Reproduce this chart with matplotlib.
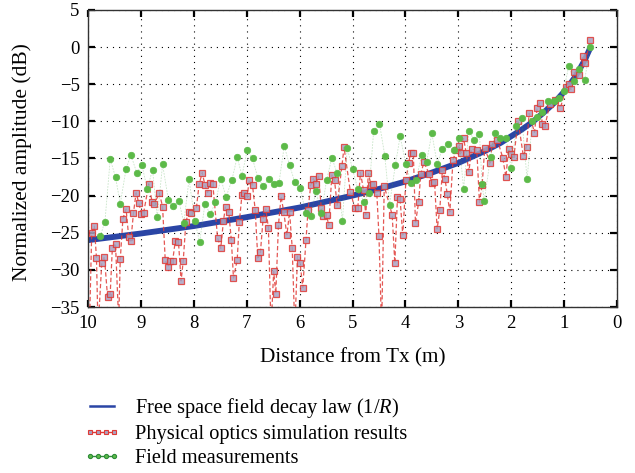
import matplotlib
matplotlib.use("Agg")
import matplotlib.pyplot as plt
from matplotlib.lines import Line2D

plt.rcParams['font.family'] = ['Liberation Serif', 'DejaVu Serif']
plt.rcParams['mathtext.fontset'] = 'custom'
plt.rcParams['mathtext.rm'] = 'Liberation Serif'
plt.rcParams['mathtext.it'] = 'Liberation Serif:italic'

# Free space 1/R law
law_x = [10, 9, 8, 7, 6, 5, 4.5, 4, 3.5, 3, 2.5, 2.2, 2, 1.8, 1.6, 1.4, 1.2,
         1.0, 0.9, 0.8, 0.7, 0.6, 0.55, 0.5]
law_y = [-26.0, -25.1, -24.1, -22.9, -21.6, -20.0, -19.1, -18.1, -16.9, -15.6,
         -14.0, -12.9, -12.0, -11.1, -10.1, -8.9, -7.6, -6.0, -5.1, -4.1, -2.9,
         -1.6, -0.8, 0.0]

# Physical optics simulation results
sim_x = [9.97, 9.93, 9.88, 9.84, 9.81, 9.74, 9.69, 9.63, 9.58, 9.54, 9.48, 9.42,
         9.39, 9.34, 9.28, 9.23, 9.19, 9.14, 9.09, 9.04, 8.99, 8.95, 8.85, 8.79,
         8.75, 8.65, 8.59, 8.54, 8.49, 8.45, 8.40, 8.35, 8.29, 8.24, 8.20, 8.15,
         8.10, 8.06, 7.95, 7.90, 7.84, 7.79, 7.74, 7.69, 7.64, 7.55, 7.49, 7.44,
         7.40, 7.34, 7.29, 7.25, 7.18, 7.14, 7.09, 7.05, 6.99, 6.95, 6.89, 6.84,
         6.79, 6.74, 6.69, 6.64, 6.59, 6.54, 6.49, 6.45, 6.40, 6.35, 6.30, 6.24,
         6.19, 6.14, 6.09, 6.04, 5.99, 5.94, 5.88, 5.84, 5.79, 5.74, 5.69, 5.64,
         5.59, 5.55, 5.49, 5.45, 5.39, 5.34, 5.29, 5.20, 5.16, 5.04, 4.96, 4.90,
         4.85, 4.79, 4.75, 4.70, 4.65, 4.61, 4.54, 4.50, 4.45, 4.40, 4.25, 4.20,
         4.15, 4.10, 4.05, 3.99, 3.94, 3.90, 3.85, 3.81, 3.75, 3.71, 3.65, 3.55,
         3.50, 3.45, 3.40, 3.35, 3.30, 3.25, 3.21, 3.16, 3.10, 3.04, 2.99, 2.95,
         2.90, 2.85, 2.80, 2.75, 2.65, 2.60, 2.55, 2.50, 2.40, 2.36, 2.26, 2.16,
         2.10, 2.05, 2.00, 1.95, 1.87, 1.77, 1.71, 1.66, 1.56, 1.51, 1.46, 1.41,
         1.36, 1.27, 1.17, 1.07, 0.96, 0.91, 0.87, 0.81, 0.71, 0.65, 0.60, 0.51]
sim_y = [-37.0, -25.1, -24.1, -28.4, -38.0, -29.1, -28.2, -33.7, -33.2, -27.1,
         -26.5, -37.0, -28.6, -23.1, -21.8, -25.6, -26.1, -22.3, -19.6, -21.0,
         -22.5, -22.4, -18.4, -20.8, -21.1, -19.7, -21.5, -28.7, -29.6, -28.8,
         -28.8, -26.1, -26.2, -31.5, -28.8, -23.6, -22.2, -22.4, -21.6, -18.5,
         -16.9, -18.6, -19.6, -18.3, -18.5, -25.7, -27.1, -23.4, -21.5, -22.2,
         -26.0, -31.1, -28.7, -23.6, -19.9, -19.6, -20.0, -17.9, -18.6, -21.9,
         -28.4, -27.6, -23.1, -21.8, -24.3, -38.0, -30.2, -33.2, -24.0, -20.1,
         -22.2, -25.3, -22.2, -27.0, -38.0, -28.2, -29.1, -32.4, -26.0, -21.9,
         -18.6, -17.7, -18.4, -17.4, -21.7, -22.8, -22.6, -24.0, -17.2, -17.9,
         -21.3, -16.0, -13.5, -19.5, -21.6, -21.7, -16.9, -19.3, -22.6, -17.0,
         -18.6, -18.5, -19.7, -25.4, -38.0, -18.7, -22.6, -29.1, -20.2, -20.5,
         -25.3, -17.9, -15.6, -14.2, -14.2, -23.7, -20.9, -17.1, -15.5, -17.1,
         -18.3, -18.1, -24.5, -21.9, -16.5, -17.8, -19.8, -22.2, -15.2, -13.9,
         -13.3, -14.3, -12.3, -14.3, -16.8, -13.7, -13.9, -20.9, -18.6, -13.6,
         -15.6, -13.0, -12.5, -14.9, -17.5, -13.7, -14.4, -14.8, -9.9, -14.7,
         -13.4, -8.9, -11.5, -8.2, -7.5, -10.4, -10.6, -7.6, -7.1, -8.2, -5.4,
         -4.9, -5.7, -3.4, -3.8, -1.2, -2.1, 0.9]

# Field measurements
meas_x = [9.77, 9.68, 9.58, 9.48, 9.39, 9.28, 9.19, 9.08, 8.98, 8.88, 8.78, 8.69,
          8.59, 8.48, 8.39, 8.28, 8.19, 8.09, 7.98, 7.89, 7.79, 7.69, 7.59, 7.49,
          7.39, 7.28, 7.18, 7.09, 6.99, 6.89, 6.79, 6.69, 6.58, 6.49, 6.39, 6.29,
          6.19, 6.09, 5.99, 5.88, 5.79, 5.69, 5.59, 5.49, 5.39, 5.29, 5.19, 5.10,
          5.00, 4.90, 4.79, 4.69, 4.60, 4.49, 4.39, 4.30, 4.19, 4.10, 3.99, 3.89,
          3.80, 3.69, 3.60, 3.50, 3.40, 3.30, 3.20, 3.09, 2.99, 2.90, 2.80, 2.70,
          2.60, 2.55, 2.51, 2.39, 2.31, 2.21, 2.10, 2.00, 1.90, 1.80, 1.70, 1.60,
          1.51, 1.41, 1.30, 1.20, 1.10, 1.01, 0.91, 0.81, 0.71, 0.61, 0.51]
meas_y = [-25.5, -23.5, -15.1, -17.5, -21.1, -16.4, -14.5, -16.9, -15.9, -19.1,
          -16.5, -22.9, -15.8, -20.6, -21.4, -20.7, -23.7, -17.8, -23.4, -26.3,
          -21.1, -22.5, -20.9, -17.7, -20.2, -17.9, -14.8, -17.3, -13.9, -15.0,
          -17.6, -18.7, -17.8, -18.5, -18.3, -13.3, -15.9, -18.2, -19.0, -22.4,
          -22.7, -19.4, -22.4, -17.9, -14.9, -17.0, -23.4, -13.6, -16.4, -19.1,
          -20.8, -19.6, -11.3, -10.3, -14.6, -21.2, -15.9, -12.0, -15.8, -18.3,
          -17.9, -14.5, -15.5, -11.6, -15.7, -13.7, -13.0, -13.9, -12.2, -19.1,
          -11.3, -12.5, -11.7, -18.5, -20.7, -14.8, -11.5, -12.2, -12.2, -16.3,
          -10.6, -9.5, -17.8, -10.0, -9.4, -8.7, -7.3, -7.3, -6.8, -5.9, -2.5,
          -4.6, -3.0, -4.4, 0.0]

x_ticks = [10, 9, 8, 7, 6, 5, 4, 3, 2, 1, 0]
y_ticks = [5, 0, -5, -10, -15, -20, -25, -30, -35]

blue = '#2a45a5'
red = '#e03a36'
fill = '#a9a3c2'
green = '#5cba48'
dgreen = '#2e8b3a'

fig = plt.figure(figsize=(6.35, 4.73), dpi=100)
ax = fig.add_axes([88/635, 1-307/473, (617-88)/635, (307-10)/473])

ax.plot(law_x, law_y, color=blue, lw=4.2, zorder=2, solid_capstyle='butt')
ax.plot(sim_x, sim_y, color=red, lw=0.9, ls=(0, (3.5, 2)), alpha=0.85,
        marker='s', ms=5.0, mfc=fill, mec=red, mew=0.9, zorder=3)
ax.plot(meas_x, meas_y, color='#4aa84a', lw=0.6, ls=(0, (2, 1.5)), alpha=0.3, zorder=4)
ax.plot(meas_x, meas_y, ls='none', marker='o', ms=4.7, mfc=green, mec=green,
        mew=0.5, zorder=5)

ax.set_xlim(10, 0)
ax.set_ylim(-35, 5)
ax.set_xticks(x_ticks)
ax.set_yticks(y_ticks)
ax.grid(True, color='black', ls=(0, (1, 4.5)), lw=0.8)
ax.tick_params(direction='in', top=True, right=True, length=5, width=1.6,
               labelsize=13.5)
ax.tick_params(axis='x', pad=6)
ax.tick_params(axis='y', pad=6)
for s in ax.spines.values():
    s.set_linewidth(1.0)
    s.set_color('#333333')

fig.text(353/635, 1-358/473, 'Distance from Tx (m)', ha='center', va='center',
         fontsize=15.3)
fig.text(22/635, 1-162/473, 'Normalized amplitude (dB)', ha='center', va='center',
         rotation=90, fontsize=15.5)

h1 = Line2D([], [], color=blue, lw=1.8)
h2 = Line2D([], [], color=red, lw=1.0, marker='s', ms=3, mfc=fill, mec=red, mew=0.8)
h3 = Line2D([], [], color=dgreen, lw=1.0, marker='o', ms=3, mfc=green, mec=dgreen, mew=0.8)
fig.legend([h1, h2, h3],
           ['Free space field decay law (1/$R$)', 'Physical optics simulation results',
            'Field measurements'],
           loc='upper left', bbox_to_anchor=(80/635, 1-392/473), frameon=False,
           fontsize=14.7, handlelength=1.75, handletextpad=0.72, labelspacing=0.22,
           numpoints=4, borderaxespad=0, borderpad=0.2)

fig.savefig('out.png', dpi=100)
